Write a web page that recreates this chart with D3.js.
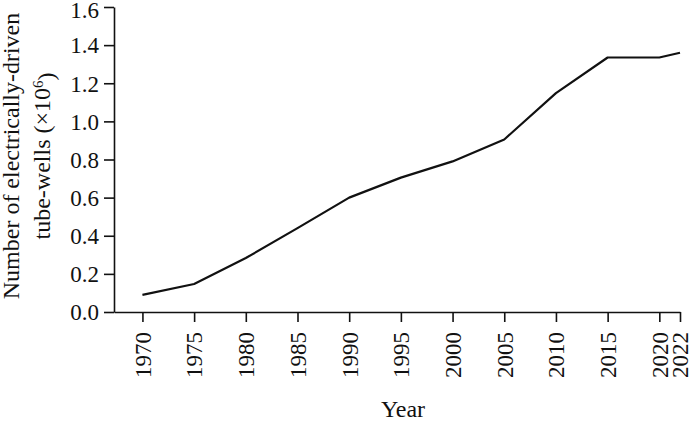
<!DOCTYPE html>
<html>
<head>
<meta charset="utf-8">
<script src="https://cdn.jsdelivr.net/npm/d3@7"></script>
<style>
  html, body { margin: 0; padding: 0; background: #fff; }
  svg { display: block; }
</style>
</head>
<body>
<svg id="chart" width="695" height="422"></svg>
<script>
// ---- data ----
const years = [1970, 1975, 1980, 1985, 1990, 1995, 2000, 2005, 2010, 2015, 2020, 2022];
const wells = [0.09, 0.147, 0.283, 0.44, 0.60, 0.705, 0.79, 0.905, 1.148, 1.335, 1.335, 1.36];
const yTickValues = [0, 0.2, 0.4, 0.6, 0.8, 1.0, 1.2, 1.4, 1.6];
const xTickValues = [1970, 1975, 1980, 1985, 1990, 1995, 2000, 2005, 2010, 2015, 2020, 2022];
const xTitle = "Year";
const yTitleLine1 = "Number of electrically-driven";
const yTitleLine2 = "tube-wells (×10";
const yTitleSup = "6";

// ---- layout ----
const FONT = "'Liberation Serif', 'Times New Roman', serif";
const svg = d3.select("#chart").attr("font-family", FONT);
const mLeft = 114, mRight = 680, mTop = 7, mBottom = 312;

const x = d3.scaleLinear().domain([1967.25, 2022]).range([mLeft, mRight]);
const y = d3.scaleLinear().domain([0, 1.6]).range([mBottom, mTop]);

const ink = "#111";

// y axis
const yAxis = svg.append("g")
  .attr("transform", `translate(${mLeft},0)`)
  .call(d3.axisLeft(y).tickValues(yTickValues).tickFormat(d3.format(".1f"))
    .tickSize(10).tickSizeOuter(0).tickPadding(5));
yAxis.attr("font-family", FONT).attr("font-size", 23);
yAxis.selectAll("text").attr("fill", ink)
  .attr("dy", d => d === 1.6 ? "0.45em" : "0.34em");

// x axis
const xAxis = svg.append("g")
  .attr("transform", `translate(0,${mBottom})`)
  .call(d3.axisBottom(x).tickValues(xTickValues).tickFormat(d3.format("d"))
    .tickSize(10).tickSizeOuter(0));
xAxis.attr("font-family", FONT).attr("font-size", 23);
xAxis.selectAll("text")
  .attr("fill", ink)
  .attr("transform", "rotate(-90)")
  .attr("text-anchor", "end")
  .attr("x", -20).attr("y", 0).attr("dy", "0.34em");

svg.selectAll(".domain, .tick line").attr("stroke", ink).attr("stroke-width", 1.6);

// line
const line = d3.line().x((d, i) => x(years[i])).y(d => y(d));
svg.append("path")
  .datum(wells)
  .attr("fill", "none")
  .attr("stroke", ink)
  .attr("stroke-width", 2.2)
  .attr("stroke-linejoin", "round")
  .attr("d", line);

// titles
svg.append("text")
  .attr("x", 403).attr("y", 417)
  .attr("text-anchor", "middle")
  .attr("font-size", 24).attr("fill", ink)
  .text(xTitle);

const yt = svg.append("g").attr("transform", "translate(0,156) rotate(-90)")
  .attr("font-size", 24).attr("fill", ink);
yt.append("text")
  .attr("x", 0).attr("y", 19)
  .attr("text-anchor", "middle")
  .text(yTitleLine1);
const t2 = yt.append("text")
  .attr("x", 0).attr("y", 50)
  .attr("text-anchor", "middle");
t2.append("tspan").text(yTitleLine2);
t2.append("tspan").attr("dy", "-0.45em").attr("font-size", 15).text(yTitleSup);
t2.append("tspan").attr("dy", "0.45em").text(")");
</script>
</body>
</html>
